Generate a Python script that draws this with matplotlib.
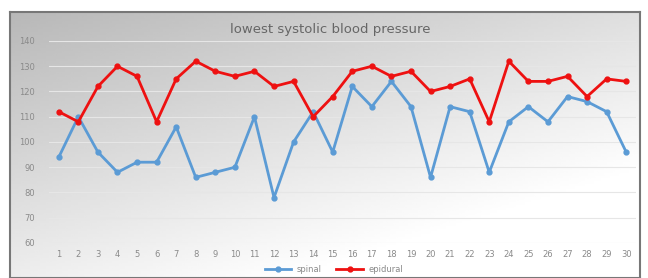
import numpy as np
import matplotlib.pyplot as plt

# data
patients = list(range(1, 31))
spinal = [94, 110, 96, 88, 92, 92, 106, 86, 88, 90,
          110, 78, 100, 112, 96, 122, 114, 124, 114, 86,
          114, 112, 88, 108, 114, 108, 118, 116, 112, 96]
epidural = [112, 108, 122, 130, 126, 108, 125, 132, 128, 126,
            128, 122, 124, 110, 118, 128, 130, 126, 128, 120,
            122, 125, 108, 132, 124, 124, 126, 118, 125, 124]
y_ticks = [60, 70, 80, 90, 100, 110, 120, 130, 140]

W, H = 648, 278
fig = plt.figure(figsize=(W / 100, H / 100), dpi=100)
fig.patch.set_facecolor("white")

# gradient background panel with border
bg = fig.add_axes([10 / W, 0, 630 / W, (H - 12) / H])
gx, gy = np.meshgrid(np.linspace(0, 1, 200), np.linspace(0, 1, 100))
grad = 0.72 + 0.28 * np.clip(0.55 * gx + 0.75 * gy, 0, 1)
bg.imshow(grad, cmap="gray", vmin=0, vmax=1, aspect="auto",
          extent=[0, 1, 0, 1], origin="upper")
bg.set_xticks([])
bg.set_yticks([])
for s in bg.spines.values():
    s.set_color("#777777")
    s.set_linewidth(1.5)

ax = fig.add_axes([49 / W, (H - 243) / H, (636 - 49) / W, 202 / H])
ax.patch.set_alpha(0)
ax.plot(patients, spinal, color="#5b9bd5", lw=2.0, marker="o", ms=3.5,
        label="spinal", zorder=3)
ax.plot(patients, epidural, color="#ee1111", lw=2.0, marker="o", ms=3.5,
        label="epidural", zorder=3)

ax.set_xlim(0.5, 30.5)
ax.set_ylim(60, 140)
ax.set_xticks(patients)
ax.set_yticks(y_ticks)
ax.grid(axis="y", color="#e6e6e6", lw=0.8)
ax.tick_params(axis="y", length=0, labelsize=6, colors="#8a8a8a", pad=10)
ax.tick_params(axis="x", length=0, labelsize=6, colors="#8a8a8a", pad=5)
for s in ax.spines.values():
    s.set_visible(False)

fig.text(0.51, 0.895, "lowest systolic blood pressure", ha="center",
         va="center", fontsize=9.5, color="#666666")
fig.legend(loc="center", bbox_to_anchor=(0.515, 0.03), ncol=2, frameon=False,
           fontsize=6, labelcolor="#8a8a8a", handlelength=3.2,
           handletextpad=0.6, columnspacing=1.8)

fig.savefig("out.png", dpi=100)
